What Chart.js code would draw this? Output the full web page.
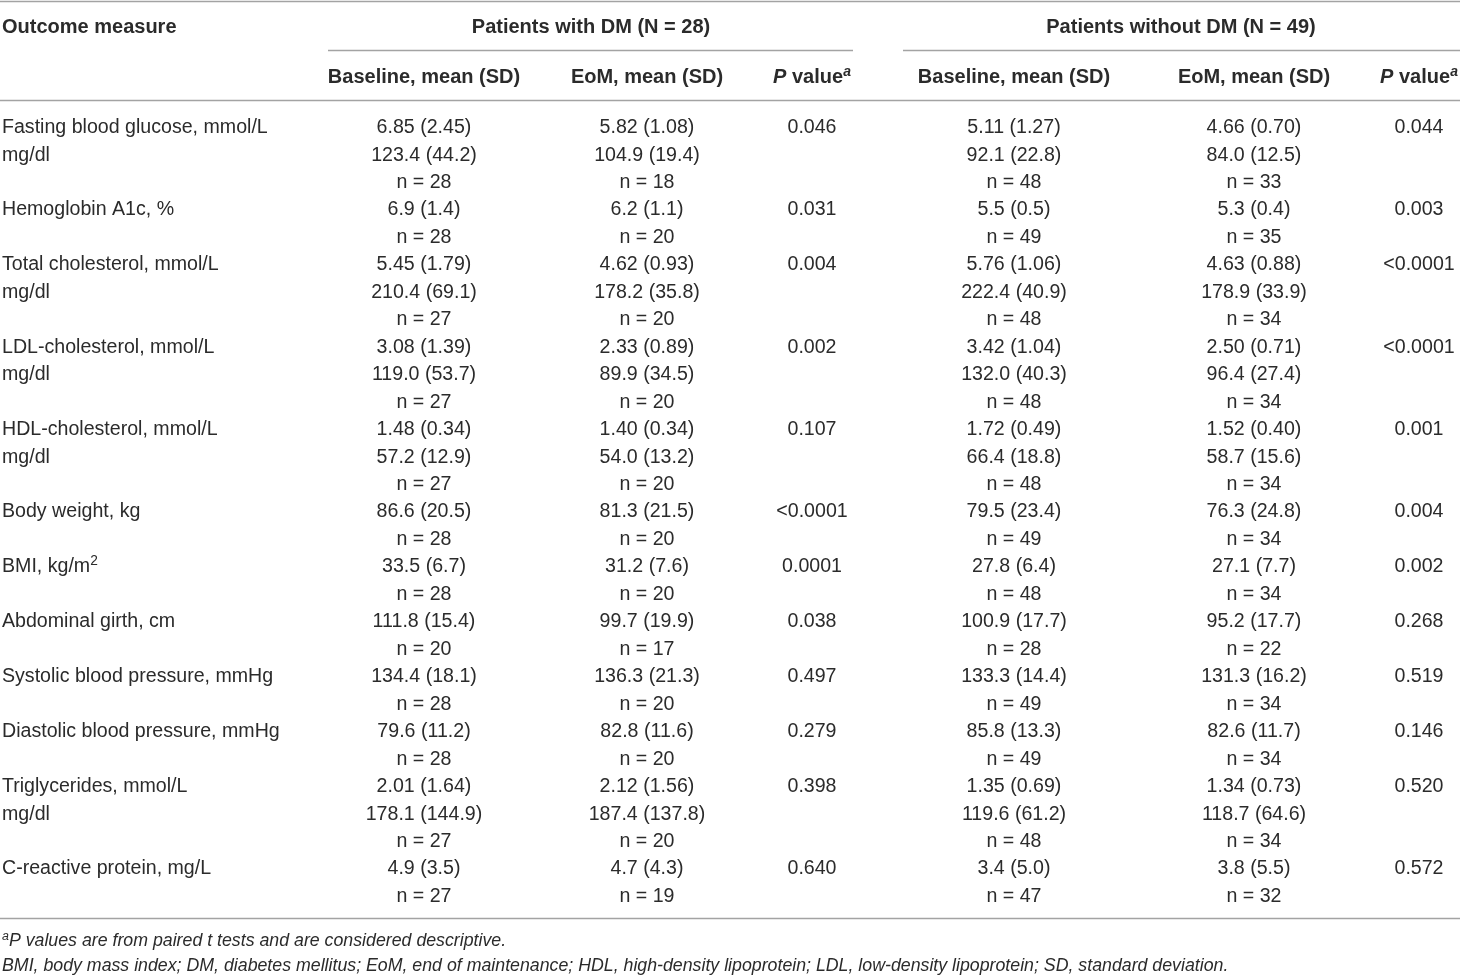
<!DOCTYPE html>
<html>
<head>
<meta charset="utf-8">
<title>Outcome measures by DM status</title>
<script src="https://cdn.jsdelivr.net/npm/chart.js@4.4.1/dist/chart.umd.min.js"></script>
<style>
  html, body { margin: 0; padding: 0; background: #fff; }
  #wrap { width: 1460px; height: 976px; position: relative; }
</style>
</head>
<body>
<div id="wrap"><canvas id="outcomeTable"></canvas></div>
<script>
// ---- table values, as printed ----
// markup: "^x" = superscript next char, "_" toggles italic
const measureLabels = [
  ['Fasting blood glucose, mmol/L', 'mg/dl'],
  ['Hemoglobin A1c, %'],
  ['Total cholesterol, mmol/L', 'mg/dl'],
  ['LDL-cholesterol, mmol/L', 'mg/dl'],
  ['HDL-cholesterol, mmol/L', 'mg/dl'],
  ['Body weight, kg'],
  ['BMI, kg/m^2'],
  ['Abdominal girth, cm'],
  ['Systolic blood pressure, mmHg'],
  ['Diastolic blood pressure, mmHg'],
  ['Triglycerides, mmol/L', 'mg/dl'],
  ['C-reactive protein, mg/L']
];

const dmBaseline = [
  ['6.85 (2.45)', '123.4 (44.2)'], ['6.9 (1.4)'], ['5.45 (1.79)', '210.4 (69.1)'],
  ['3.08 (1.39)', '119.0 (53.7)'], ['1.48 (0.34)', '57.2 (12.9)'], ['86.6 (20.5)'],
  ['33.5 (6.7)'], ['111.8 (15.4)'], ['134.4 (18.1)'], ['79.6 (11.2)'],
  ['2.01 (1.64)', '178.1 (144.9)'], ['4.9 (3.5)']
];
const dmBaselineN = [28, 28, 27, 27, 27, 28, 28, 20, 28, 28, 27, 27];

const dmEoM = [
  ['5.82 (1.08)', '104.9 (19.4)'], ['6.2 (1.1)'], ['4.62 (0.93)', '178.2 (35.8)'],
  ['2.33 (0.89)', '89.9 (34.5)'], ['1.40 (0.34)', '54.0 (13.2)'], ['81.3 (21.5)'],
  ['31.2 (7.6)'], ['99.7 (19.9)'], ['136.3 (21.3)'], ['82.8 (11.6)'],
  ['2.12 (1.56)', '187.4 (137.8)'], ['4.7 (4.3)']
];
const dmEoMN = [18, 20, 20, 20, 20, 20, 20, 17, 20, 20, 20, 19];

const dmP = ['0.046', '0.031', '0.004', '0.002', '0.107', '<0.0001',
             '0.0001', '0.038', '0.497', '0.279', '0.398', '0.640'];

const noDmBaseline = [
  ['5.11 (1.27)', '92.1 (22.8)'], ['5.5 (0.5)'], ['5.76 (1.06)', '222.4 (40.9)'],
  ['3.42 (1.04)', '132.0 (40.3)'], ['1.72 (0.49)', '66.4 (18.8)'], ['79.5 (23.4)'],
  ['27.8 (6.4)'], ['100.9 (17.7)'], ['133.3 (14.4)'], ['85.8 (13.3)'],
  ['1.35 (0.69)', '119.6 (61.2)'], ['3.4 (5.0)']
];
const noDmBaselineN = [48, 49, 48, 48, 48, 49, 48, 28, 49, 49, 48, 47];

const noDmEoM = [
  ['4.66 (0.70)', '84.0 (12.5)'], ['5.3 (0.4)'], ['4.63 (0.88)', '178.9 (33.9)'],
  ['2.50 (0.71)', '96.4 (27.4)'], ['1.52 (0.40)', '58.7 (15.6)'], ['76.3 (24.8)'],
  ['27.1 (7.7)'], ['95.2 (17.7)'], ['131.3 (16.2)'], ['82.6 (11.7)'],
  ['1.34 (0.73)', '118.7 (64.6)'], ['3.8 (5.5)']
];
const noDmEoMN = [33, 35, 34, 34, 34, 34, 34, 22, 34, 34, 34, 32];

const noDmP = ['0.044', '0.003', '<0.0001', '<0.0001', '0.001', '0.004',
               '0.002', '0.268', '0.519', '0.146', '0.520', '0.572'];

const groupHeaders = ['Patients with DM (N = 28)', 'Patients without DM (N = 49)'];
const columnHeaders = ['Outcome measure', 'Baseline, mean (SD)', 'EoM, mean (SD)', '_P_ value_^a_',
                       'Baseline, mean (SD)', 'EoM, mean (SD)', '_P_ value_^a_'];
const footnotes = [
  '^aP values are from paired t tests and are considered descriptive.',
  'BMI, body mass index; DM, diabetes mellitus; EoM, end of maintenance; HDL, high-density lipoprotein; LDL, low-density lipoprotein; SD, standard deviation.'
];

// ---- layout (x in page px, y in body-line units) ----
const W = 1460, H = 976;
const FIRST_LINE = 126, LINE_H = 27.46;
const toLine = px => (px - FIRST_LINE) / LINE_H;
const COL_X = [2, 424, 647, 812, 1014, 1254, 1419];
const GROUP_X = [591, 1181];
const HEAD1_Y = toLine(26), HEAD2_Y = toLine(76);
const FOOT_Y = [toLine(940), toLine(965)];
const RULES = [
  { y: toLine(1.5), x0: 0, x1: W },
  { y: toLine(50.5), x0: 328, x1: 853 },
  { y: toLine(50.5), x0: 903, x1: W },
  { y: toLine(100.5), x0: 0, x1: W },
  { y: toLine(918.5), x0: 0, x1: W }
];
const INK = '#2b2b2b';
const RULE_INK = '#a3a3a3';
const FAMILY = '"Liberation Sans", Arial, sans-serif';
const BODY_PX = 19.6, BOLD_PX = 20, FOOT_PX = 17.75;

// ---- build cell lists from the arrays ----
const bodyCols = [[], [], [], [], [], [], []];
let line = 0;
measureLabels.forEach((labels, i) => {
  labels.forEach((t, j) => bodyCols[0].push({ x: COL_X[0], y: line + j, text: t }));
  const cells = [
    [dmBaseline[i], dmBaselineN[i]], [dmEoM[i], dmEoMN[i]], null,
    [noDmBaseline[i], noDmBaselineN[i]], [noDmEoM[i], noDmEoMN[i]], null
  ];
  cells.forEach((c, k) => {
    const col = k + 1;
    if (!c) return;
    c[0].forEach((v, j) => bodyCols[col].push({ x: COL_X[col], y: line + j, text: v }));
    bodyCols[col].push({ x: COL_X[col], y: line + c[0].length, text: 'n = ' + c[1] });
  });
  bodyCols[3].push({ x: COL_X[3], y: line, text: dmP[i] });
  bodyCols[6].push({ x: COL_X[6], y: line, text: noDmP[i] });
  line += dmBaseline[i].length + 1;
});

const datasets = bodyCols.map((pts, c) => ({
  label: 'col' + c, data: pts, cellAlign: c === 0 ? 'left' : 'center', cellBold: false, cellSize: BODY_PX
}));
datasets.push({
  label: 'groups', cellAlign: 'center', cellBold: true, cellSize: BOLD_PX,
  data: groupHeaders.map((t, i) => ({ x: GROUP_X[i], y: HEAD1_Y, text: t }))
});
datasets.push({
  label: 'heads', cellAlign: 'center', cellBold: true, cellSize: BOLD_PX,
  data: columnHeaders.map((t, i) => ({ x: COL_X[i], y: i === 0 ? HEAD1_Y : HEAD2_Y, text: t, align: i === 0 ? 'left' : 'center' }))
});
datasets.push({
  label: 'notes', cellAlign: 'left', cellBold: false, cellItalic: true, cellSize: FOOT_PX,
  data: footnotes.map((t, i) => ({ x: COL_X[0], y: FOOT_Y[i], text: t }))
});
datasets.forEach(d => { d.pointRadius = 0; d.pointHoverRadius = 0; d.showLine = false; });

// ---- tiny rich text: ^ superscript next char, _ toggles italic ----
function parseRich(str, italicBase) {
  const segs = [];
  let italic = !!italicBase;
  for (let i = 0; i < str.length; i++) {
    const ch = str[i];
    if (ch === '_') { italic = !italic; continue; }
    if (ch === '^') { segs.push({ t: str[i + 1], sup: true, italic }); i++; continue; }
    const last = segs[segs.length - 1];
    if (last && !last.sup && last.italic === italic) last.t += ch;
    else segs.push({ t: ch, sup: false, italic });
  }
  return segs;
}

function fontFor(seg, size, bold) {
  const px = seg.sup ? size * 0.7 : size;
  return (seg.italic ? 'italic ' : '') + (bold ? 'bold ' : '') + px + 'px ' + FAMILY;
}

function drawRich(ctx, str, x, y, align, size, bold, italic) {
  const segs = parseRich(str, italic);
  let total = 0;
  segs.forEach(s => { ctx.font = fontFor(s, size, bold); s.w = ctx.measureText(s.t).width; total += s.w; });
  let cx = align === 'center' ? x - total / 2 : x;
  const base = y + size * 0.36;
  segs.forEach(s => {
    ctx.font = fontFor(s, size, bold);
    ctx.fillText(s.t, cx, s.sup ? base - size * 0.38 : base);
    cx += s.w;
  });
}

const cellText = {
  id: 'cellText',
  beforeDraw(chart) {
    const ctx = chart.ctx;
    ctx.save();
    ctx.fillStyle = '#fff';
    ctx.fillRect(0, 0, chart.width, chart.height);
    ctx.restore();
  },
  afterDatasetsDraw(chart) {
    const ctx = chart.ctx;
    const xs = chart.scales.x, ys = chart.scales.y;
    ctx.save();
    ctx.strokeStyle = RULE_INK;
    ctx.lineWidth = 1.4;
    RULES.forEach(r => {
      const py = ys.getPixelForValue(r.y);
      ctx.beginPath();
      ctx.moveTo(xs.getPixelForValue(r.x0), py);
      ctx.lineTo(xs.getPixelForValue(r.x1), py);
      ctx.stroke();
    });
    ctx.fillStyle = INK;
    ctx.textBaseline = 'alphabetic';
    ctx.textAlign = 'left';
    chart.data.datasets.forEach((ds, di) => {
      const meta = chart.getDatasetMeta(di);
      meta.data.forEach((pt, k) => {
        const raw = ds.data[k];
        drawRich(ctx, raw.text, pt.x, pt.y, raw.align || ds.cellAlign, ds.cellSize, ds.cellBold, ds.cellItalic);
      });
    });
    ctx.restore();
  }
};

const canvas = document.getElementById('outcomeTable');
new Chart(canvas, {
  type: 'scatter',
  data: { datasets },
  options: {
    responsive: true,
    maintainAspectRatio: false,
    devicePixelRatio: 1,
    animation: false,
    events: [],
    layout: { padding: 0 },
    plugins: { legend: { display: false }, tooltip: { enabled: false } },
    scales: {
      x: { type: 'linear', min: 0, max: W, display: false },
      y: { type: 'linear', min: toLine(0), max: toLine(H), reverse: true, display: false }
    }
  },
  plugins: [cellText]
});
</script>
</body>
</html>
